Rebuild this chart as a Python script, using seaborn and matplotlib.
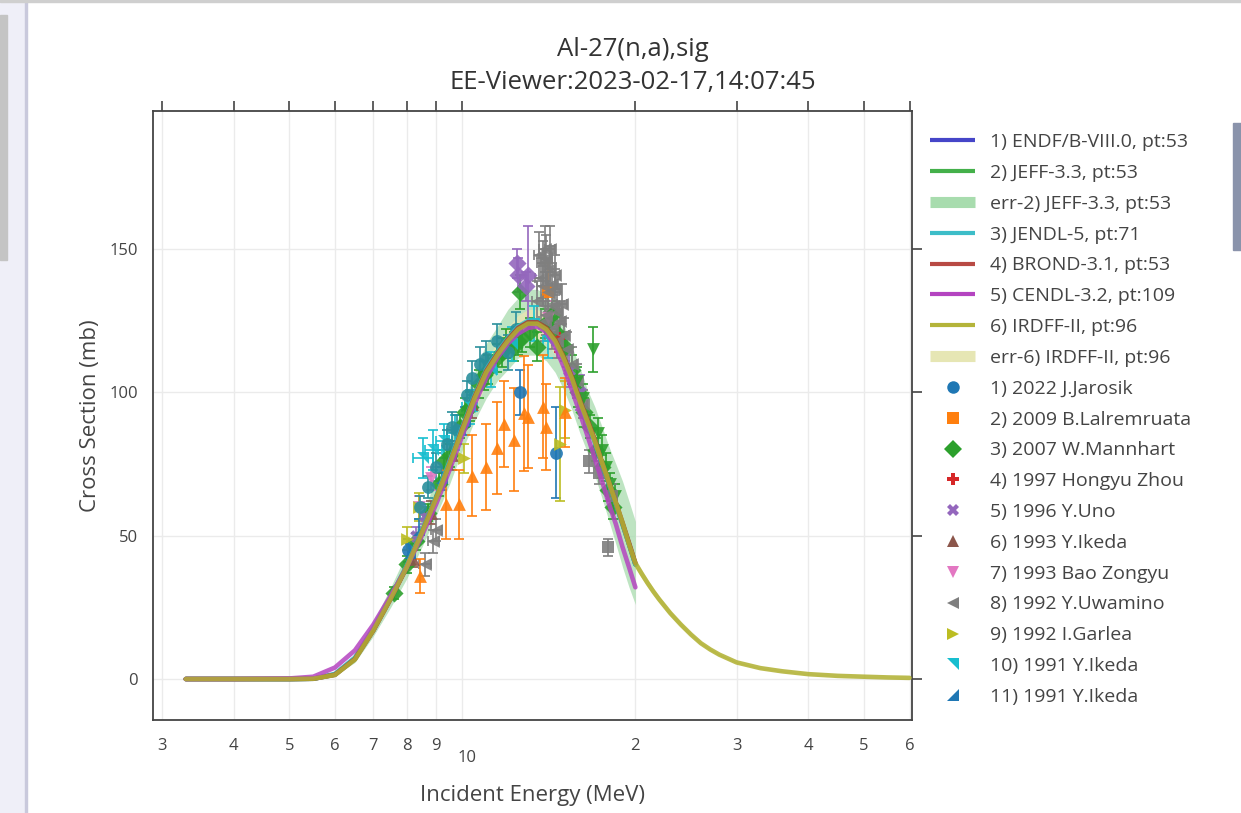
import seaborn as sns
import matplotlib.pyplot as plt
from matplotlib.lines import Line2D
from matplotlib.patches import Rectangle
from matplotlib.ticker import NullLocator

# ---- evaluated libraries (MeV, mb) ----
e_eval = [3.3, 4.0, 5.0, 5.5, 6.0, 6.5, 7.0, 7.5, 8.0, 8.5, 9.0, 9.5, 10.0, 10.5, 11.0, 11.5,
          12.0, 12.5, 13.0, 13.5, 14.0, 14.5, 15.0, 15.5, 16.0, 16.5, 17.0, 17.5, 18.0, 18.5,
          19.0, 19.5, 20.0]
sig_endf = [0, 0, 0, 0.1, 1.5, 7, 17, 28, 39, 51, 63, 75, 87, 98, 107, 113,
            118, 122, 124, 124, 122, 118, 112, 105, 97, 90, 83, 75, 68, 61, 54, 47, 40]
sig_jeff = [0, 0, 0, 0.1, 1.6, 7.2, 17.5, 28.5, 39.5, 51.5, 63.5, 75.5, 87.5, 98.5, 107.5, 113.5,
            118.5, 122.5, 124.5, 124.5, 122.5, 118.5, 112.5, 105, 97.5, 90, 83, 75.5, 68, 61, 54, 47, 40]
jeff_lo = [0, 0, 0, 0.1, 1.2, 5.8, 15, 25, 35, 46, 57, 68, 80, 90, 98, 104,
           108, 112, 113, 113, 111, 107, 101, 94, 86, 79, 71, 63, 55, 47, 39, 32, 26]
jeff_hi = [0, 0, 0, 0.1, 2.0, 8.6, 20, 32, 44, 57, 70, 83, 95, 107, 117, 123,
           129, 133, 136, 136, 134, 130, 124, 116, 109, 101, 95, 88, 81, 75, 69, 62, 55]
sig_jendl = [0, 0, 0, 0.1, 1.8, 7.5, 17.5, 28.5, 39.5, 51.5, 63.5, 76, 88, 99, 108, 114,
             119, 123, 125, 124.5, 122, 117.5, 111.5, 104.5, 97, 89.5, 82.5, 75, 68, 61, 54, 47, 40]
sig_brond = [0, 0, 0, 0.1, 1.5, 7, 17, 28, 39, 51, 63, 75, 87.5, 98.5, 107.5, 113.5,
             118.5, 122.5, 124.5, 124.5, 122.5, 118.5, 112.5, 105.5, 97.5, 90.5, 83.5, 75.5, 68.5, 61.5, 54.5, 47.5, 40.5]
sig_cendl = [0, 0, 0.2, 0.8, 4, 10, 19, 29, 39, 50, 61, 73, 85, 96, 105, 112,
             117, 120.5, 122.5, 123, 121, 116, 109, 101, 93, 85, 77, 69, 61, 54, 46, 39, 32]
e_irdff = e_eval + [20.5, 21, 21.5, 22, 23, 24, 25, 26, 27, 28, 30, 33, 36, 40, 45, 50, 55, 60]
sig_irdff = [0, 0, 0, 0.1, 1.4, 6.8, 17, 28, 39, 51, 63, 75, 87, 98, 107, 113,
             118, 122, 124, 124, 122, 118, 112, 105, 97, 90, 83, 75.5, 68.5, 61.5, 54.5, 47, 40.4,
             36.8, 33.5, 30.5, 27.8, 23, 19, 15.5, 12.5, 10.3, 8.5, 5.8, 3.8, 2.7, 1.7, 1.1, 0.8, 0.55, 0.4]
irdff_rel = 0.04

# ---- experimental data: (E, sig, dsig, dE) ----
jarosik_e = [8.05, 12.6, 14.55]
jarosik_s = [45, 100, 79]
jarosik_d = [4, 8, 16]

lalrem_e = [14.1]
lalrem_s = [135]
lalrem_d = [10]

mannhart_e = [7.6, 8.0, 8.3, 8.7, 9.1, 9.5, 9.9, 10.3, 10.7, 11.1, 11.5, 11.9, 12.3, 12.6, 12.7,
              13.1, 13.5, 13.9, 14.3, 14.7, 15.1, 15.5, 15.9, 16.3, 16.7, 17.1, 17.5, 17.9, 18.3,
              9.3, 10.1, 10.9, 11.7, 12.5]
mannhart_s = [30, 40, 48, 58, 68, 78, 88, 95, 103, 108, 112, 117, 116, 135, 119,
              121, 116, 124, 127, 120, 116, 108, 100, 93, 88, 80, 74, 66, 60,
              76, 93, 106, 114, 118]
mannhart_d = [2, 3, 3, 3, 4, 4, 4, 5, 5, 5, 5, 5, 5, 6, 5,
              5, 5, 5, 5, 5, 5, 5, 5, 5, 4, 4, 4, 4, 4,
              4, 5, 5, 5, 5]

zhou_e = [14.7]
zhou_s = [119]
zhou_d = [5]

uno_e = [8.3, 8.6, 15.3, 16.0]
uno_s = [50, 57, 108, 100]
uno_d = [3, 3, 6, 6]

ikeda93_e = [8.2, 8.8, 9.6, 10.4]
ikeda93_s = [42, 58, 78, 96]
ikeda93_d = [3, 4, 5, 5]

bao_e = [8.4, 8.8, 14.1]
bao_s = [60, 70, 126]
bao_d = [4, 4, 6]

uwamino_e = [8.6, 8.9, 9.0, 13.5, 13.6, 13.7, 13.8, 13.9, 13.9, 14.0, 14.0, 14.1, 14.2, 14.3, 14.3,
             14.4, 14.5, 14.6, 14.6, 14.8, 15.0, 15.2, 15.5, 15.8, 16.2, 13.8, 14.2, 14.5, 14.9]
uwamino_s = [40, 48, 52, 132, 148, 140, 145, 150, 125, 147, 127, 135, 143, 138, 122,
             130, 136, 128, 118, 125, 120, 115, 110, 104, 96, 137, 150, 141, 131]
uwamino_d = [4, 4, 4, 7, 8, 7, 8, 8, 7, 8, 7, 7, 8, 7, 7,
             7, 7, 7, 6, 7, 6, 6, 6, 6, 5, 7, 8, 7, 7]
uwamino_de = [0.2, 0.2, 0.2, 0.3, 0.3, 0.3, 0.3, 0.3, 0.3, 0.3, 0.3, 0.3, 0.3, 0.3, 0.3,
              0.3, 0.3, 0.3, 0.3, 0.3, 0.3, 0.3, 0.3, 0.3, 0.3, 0.3, 0.3, 0.3, 0.3]

garlea_e = [8.0, 8.4, 10.05, 14.8, 15.1]
garlea_s = [49, 60, 77, 82, 94]
garlea_d = [4, 5, 5, 20, 10]

ikeda91a_e = [8.55, 8.9, 9.3, 9.7, 10.3, 11.2, 12.2, 13.3, 14.1]
ikeda91a_s = [77, 80, 83, 86, 95, 108, 117, 124, 118]
ikeda91a_d = [7, 7, 6, 6, 6, 6, 6, 6, 6]
ikeda91a_de = [0.35, 0.3, 0.3, 0.3, 0.3, 0.3, 0.3, 0.3, 0.3]

ikeda91b_e = [8.1, 8.4, 9.2, 10.1]
ikeda91b_s = [44, 52, 70, 90]
ikeda91b_d = [3, 4, 4, 5]

# further sets (legend list is cut off in the viewer)
extra_orange_e = [8.45, 9.35, 9.85, 10.4, 11.0, 11.5, 11.8, 12.3, 12.8, 13.0, 13.8, 14.0, 15.1]
extra_orange_s = [36, 61, 61, 71, 74, 80.5, 89, 83.5, 92.7, 91.5, 95, 88, 93]
extra_orange_d = [6, 12, 12, 14, 15, 16, 15, 18, 20, 18, 18, 15, 12]

extra_purple_e = [12.45, 12.5, 13.0, 12.9]
extra_purple_s = [145, 141, 141, 137]
extra_purple_d = [5, 6, 17, 5]

extra_teal_e = [8.45, 8.7, 9.0, 9.4, 9.8, 10.4, 10.75, 11.5, 12.0, 12.4, 9.6, 10.2, 11.0]
extra_teal_s = [60, 67, 74, 82, 87, 105, 110, 118, 114, 122, 88, 99, 112]
extra_teal_d = [4, 4, 5, 5, 5, 6, 6, 6, 6, 6, 5, 5, 6]

extra_greentri_e = [15.8, 16.2, 16.9, 17.2, 17.5, 17.8, 18.1, 18.4]
extra_greentri_s = [104, 98, 115, 86, 80, 74, 68, 64]
extra_greentri_d = [5, 5, 8, 5, 5, 5, 4, 4]

extra_graysq_e = [16.6, 17.3, 17.9, 18.2]
extra_graysq_s = [76, 72, 46, 64]
extra_graysq_d = [4, 4, 3, 4]

tri_ne = [(-1, 1), (1, 1), (1, -1)]
tri_se = [(1, 1), (1, -1), (-1, -1)]

sns.set_style('white')
plt.rcParams['font.family'] = ['Open Sans', 'DejaVu Sans']
txt = '#444444'

fig = plt.figure(figsize=(12.41, 8.13), dpi=100)
W, H = 1241, 813

# viewer frame bits
fig.patches.append(Rectangle((0, 0), 25 / W, 1, transform=fig.transFigure, color='#efeff8', zorder=0))
fig.patches.append(Rectangle((0, 1 - 260 / H), 7 / W, 245 / H, transform=fig.transFigure, color='#c4c4c4', zorder=1))
fig.patches.append(Rectangle((25 / W, 0), 2 / W, 1, transform=fig.transFigure, color='#c9c9dc', zorder=1))
fig.patches.append(Rectangle((0, 1 - 2 / H), 1, 2 / H, transform=fig.transFigure, color='#cfcfcf', zorder=1))
fig.patches.append(Rectangle((1233 / W, 1 - 250 / H), 8 / W, 127 / H, transform=fig.transFigure, color='#8a93ab', zorder=1))

ax = fig.add_axes([153 / W, 1 - 720 / H, (912 - 153) / W, (720 - 111) / H])
ax.set_xscale('log')

# error bands
ax.fill_between(e_eval, jeff_lo, jeff_hi, color='#a8dcae', alpha=0.75, lw=0, zorder=1)
ax.fill_between(e_irdff, [v * (1 - irdff_rel) for v in sig_irdff], [v * (1 + irdff_rel) for v in sig_irdff],
                color='#e6e6b4', alpha=0.9, lw=0, zorder=1)

# experimental points
exp_sets = [
    (jarosik_e, jarosik_s, jarosik_d, None, '#1f77b4', 'o', '1) 2022 J.Jarosik'),
    (lalrem_e, lalrem_s, lalrem_d, None, '#ff7f0e', 's', '2) 2009 B.Lalremruata'),
    (mannhart_e, mannhart_s, mannhart_d, None, '#2ca02c', 'D', '3) 2007 W.Mannhart'),
    (zhou_e, zhou_s, zhou_d, None, '#d62728', 'P', '4) 1997 Hongyu Zhou'),
    (uno_e, uno_s, uno_d, None, '#9467bd', 'X', '5) 1996 Y.Uno'),
    (ikeda93_e, ikeda93_s, ikeda93_d, None, '#8c564b', '^', '6) 1993 Y.Ikeda'),
    (bao_e, bao_s, bao_d, None, '#e377c2', 'v', '7) 1993 Bao Zongyu'),
    (uwamino_e, uwamino_s, uwamino_d, uwamino_de, '#7f7f7f', '<', '8) 1992 Y.Uwamino'),
    (garlea_e, garlea_s, garlea_d, None, '#bcbd22', '>', '9) 1992 I.Garlea'),
    (ikeda91a_e, ikeda91a_s, ikeda91a_d, ikeda91a_de, '#17becf', tri_ne, '10) 1991 Y.Ikeda'),
    (ikeda91b_e, ikeda91b_s, ikeda91b_d, None, '#1f77b4', tri_se, '11) 1991 Y.Ikeda'),
    (extra_orange_e, extra_orange_s, extra_orange_d, None, '#ff7f0e', '^', None),
    (extra_purple_e, extra_purple_s, extra_purple_d, None, '#9467bd', 'D', None),
    (extra_teal_e, extra_teal_s, extra_teal_d, None, '#2a8f9c', 'o', None),
    (extra_greentri_e, extra_greentri_s, extra_greentri_d, None, '#2ca02c', 'v', None),
    (extra_graysq_e, extra_graysq_s, extra_graysq_d, None, '#7f7f7f', 's', None),
]
for e, s, d, de, c, m, lab in exp_sets:
    ax.errorbar(e, s, yerr=d, xerr=de, fmt='none', ecolor=c, elinewidth=1.4,
                capsize=3.6, capthick=1.4, alpha=0.85, zorder=2)
    sns.scatterplot(x=e, y=s, ax=ax, color=c, marker=m, s=85, linewidth=0,
                    alpha=0.9, zorder=3, legend=False)

# evaluated curves
eval_sets = [
    (e_eval, sig_endf, '#4646c8'),
    (e_eval, sig_jeff, '#44b04a'),
    (e_eval, sig_jendl, '#3dbdc8'),
    (e_eval, sig_brond, '#b03c30'),
    (e_eval, sig_cendl, '#b444c0'),
    (e_irdff, sig_irdff, '#b0b030'),
]
for e, s, c in eval_sets:
    sns.lineplot(x=e, y=s, ax=ax, color=c, lw=3.3, alpha=0.85, sort=False, zorder=5, legend=False)

ax.set_xlim(2.894, 60.6)
ax.set_ylim(-14.3, 198.2)
ax.set_xticks([3, 4, 5, 6, 7, 8, 9, 10, 20, 30, 40, 50, 60],
              ['3', '4', '5', '6', '7', '8', '9', '', '2', '3', '4', '5', '6'])
ax.xaxis.set_minor_locator(NullLocator())
ax.set_yticks([0, 50, 100, 150])
ax.tick_params(axis='both', direction='out', length=7, width=1.2, colors=txt,
               labelsize=12, top=True, right=True, labeltop=False, labelright=False)
ax.tick_params(axis='x', pad=6)
ax.tick_params(axis='y', pad=4)
ax.text(10.2, -38 / 609, '10', transform=ax.get_xaxis_transform(), ha='center', va='center',
        fontsize=12, color=txt)
ax.grid(True, color='#ebebeb', lw=1)
for sp in ax.spines.values():
    sp.set_color(txt)
    sp.set_linewidth(1.3)
ax.set_xlabel('Incident Energy (MeV)', fontsize=16, color=txt, labelpad=22)
ax.set_ylabel('Cross Section (mb)', fontsize=16, color=txt, labelpad=6)

fig.text(633 / W, 1 - 50 / H, 'Al-27(n,a),sig', ha='center', va='center', fontsize=18.5, color='#333333')
fig.text(633 / W, 1 - 83 / H, 'EE-Viewer:2023-02-17,14:07:45', ha='center', va='center',
         fontsize=18.5, color='#333333')

# legend
handles = [
    Line2D([], [], color='#4646c8', lw=3, solid_capstyle='butt'),
    Line2D([], [], color='#44b04a', lw=3, solid_capstyle='butt'),
    Line2D([], [], color='#a8dcae', lw=8, solid_capstyle='butt'),
    Line2D([], [], color='#3dbdc8', lw=3, solid_capstyle='butt'),
    Line2D([], [], color='#b84a44', lw=3, solid_capstyle='butt'),
    Line2D([], [], color='#b444c0', lw=3, solid_capstyle='butt'),
    Line2D([], [], color='#b4b43a', lw=3, solid_capstyle='butt'),
    Line2D([], [], color='#e6e6b4', lw=8, solid_capstyle='butt'),
]
labels = ['1) ENDF/B-VIII.0, pt:53', '2) JEFF-3.3, pt:53', 'err-2) JEFF-3.3, pt:53',
          '3) JENDL-5, pt:71', '4) BROND-3.1, pt:53', '5) CENDL-3.2, pt:109',
          '6) IRDFF-II, pt:96', 'err-6) IRDFF-II, pt:96']
for e, s, d, de, c, m, lab in exp_sets:
    if lab is None:
        continue
    handles.append(Line2D([], [], ls='none', marker=m, color=c, markersize=9, markeredgewidth=0))
    labels.append(lab)
fig.legend(handles, labels, loc='upper left', bbox_to_anchor=(930 / W, 1 - 133 / H),
           frameon=False, fontsize=14, handlelength=2.32, handletextpad=0.77,
           labelspacing=0.66, labelcolor=txt, borderaxespad=0, borderpad=0)

fig.savefig('out.png', dpi=100)
